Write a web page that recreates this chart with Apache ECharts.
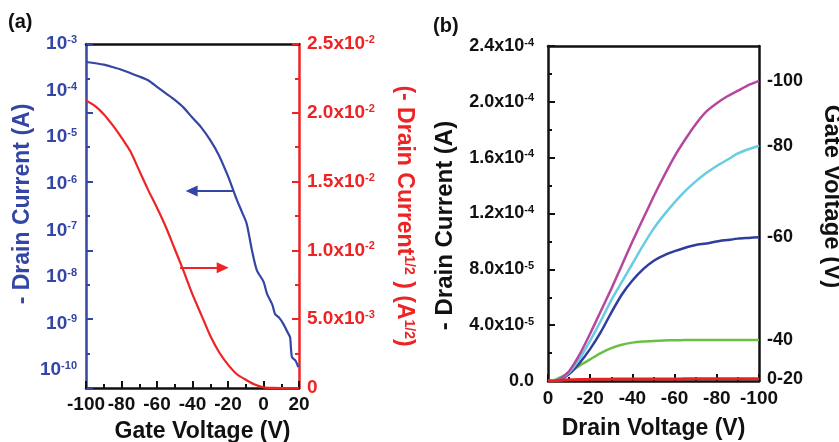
<!DOCTYPE html>
<html><head><meta charset="utf-8">
<script src="https://cdn.jsdelivr.net/npm/echarts@6/dist/echarts.min.js"></script>
<style>html,body{margin:0;padding:0;background:#fff}#c{width:839px;height:442px}</style>
</head><body><div id="c"></div>
<script>
// ---------- Panel (a): transfer characteristics ----------
const gateVoltageA = [-100,-90,-85,-80,-70,-65,-60,-55,-50,-45,-40,-35,-30,-25,-20,-17,-15,-12,-9.5,-6.5,-3.8,0,2,5,6.5,9,11,14,15,16,18,19.6];
const drainCurrentA = [4.1e-4,3.6e-4,3.2e-4,2.8e-4,2.0e-4,1.66e-4,1.2e-4,8.7e-5,6.3e-5,4.3e-5,2.6e-5,1.6e-5,8.6e-6,4.0e-6,1.45e-6,7.2e-7,4.5e-7,2.4e-7,1.4e-7,3.7e-8,1.4e-8,7.9e-9,4.3e-9,2.5e-9,1.6e-9,1.3e-9,1.0e-9,6.0e-10,5.0e-10,1.9e-10,1.6e-10,1.15e-10];
const gateVoltageA2 = [-100,-95,-90,-85,-80,-75,-70,-65,-60,-55,-50,-45,-40,-35,-30,-25,-20,-15,-10,-5,0,5,10,15,20];
const sqrtDrainCurrentA = [0.0209,0.0205,0.0199,0.0191,0.0182,0.0172,0.0158,0.0144,0.0131,0.0117,0.0101,0.0085,0.0068,0.0053,0.0038,0.0026,0.0017,0.0010,0.0006,0.00025,0.00005,0.00001,0,0,0];
// arrows: [x from, x to, y]
const blueArrowA = [-17.2, -40.5, 7.0e-7];
const redArrowA = [-47, -23, 0.00874];
const gateTicksA = { min: -100, max: 20, step: 20 };
const logRangeA = { min: 4.1e-11, max: 1e-3 };
const sqrtRangeA = { min: 0, max: 0.025, step: 0.005 };

// ---------- Panel (b): output characteristics ----------
const drainVoltageB = [0,-2,-5,-10,-15,-20,-25,-30,-35,-40,-45,-50,-55,-60,-65,-70,-75,-80,-85,-90,-95,-100];
const idVg100 = [0,0,1.0e-6,7e-6,1.9e-5,3.4e-5,5.0e-5,6.6e-5,8.3e-5,1.0e-4,1.16e-4,1.32e-4,1.47e-4,1.61e-4,1.73e-4,1.84e-4,1.93e-4,1.99e-4,2.04e-4,2.08e-4,2.12e-4,2.15e-4];
const idVg80 = [0,0,1.0e-6,6e-6,1.6e-5,2.9e-5,4.3e-5,5.8e-5,7.1e-5,8.4e-5,9.7e-5,1.09e-4,1.19e-4,1.28e-4,1.36e-4,1.43e-4,1.49e-4,1.54e-4,1.585e-4,1.63e-4,1.66e-4,1.685e-4];
const idVg60 = [0,0,5e-7,5e-6,1.3e-5,2.3e-5,3.5e-5,4.9e-5,6.2e-5,7.2e-5,8.0e-5,8.6e-5,9.0e-5,9.3e-5,9.55e-5,9.75e-5,9.85e-5,1.0e-4,1.01e-4,1.02e-4,1.025e-4,1.03e-4];
const idVg40 = [0,0,2e-6,6e-6,1.1e-5,1.55e-5,2.0e-5,2.35e-5,2.6e-5,2.75e-5,2.83e-5,2.87e-5,2.9e-5,2.92e-5,2.93e-5,2.93e-5,2.93e-5,2.94e-5,2.94e-5,2.94e-5,2.94e-5,2.94e-5];
const idVg20 = [0,0,4e-7,9e-7,1.1e-6,1.2e-6,1.3e-6,1.35e-6,1.4e-6,1.4e-6,1.45e-6,1.5e-6,1.5e-6,1.5e-6,1.55e-6,1.6e-6,1.6e-6,1.6e-6,1.65e-6,1.7e-6,1.7e-6,1.7e-6];
const gateLabelsB = ['-100','-80','-60','-40','0-20'];
const drainTicksB = { min: -100, max: 0, step: 20 };
const currentRangeB = { min: 0, max: 2.4e-4, step: 4e-5 };

// ---------- styling ----------
const FONT = '"Liberation Sans", Arial, sans-serif';
const BLUE = '#3346a6', RED = '#ee2424', BLACK = '#111';
const colorsB = ['#b5489e', '#68cde2', '#2f3d9d', '#6cbf45', '#e82222'];
const seriesB = [idVg100, idVg80, idVg60, idVg40, idVg20];

const zip = (xs, ys) => xs.map((x, i) => [x, ys[i]]);
function sci(v, digits) {
  if (v === 0) return null;
  const e = Math.floor(Math.log10(v) + 1e-9);
  const m = (v / Math.pow(10, e)).toFixed(digits);
  return { m, e };
}
function richSet(color, size) {
  return {
    b: { fontSize: size, fontWeight: 'bold', fontFamily: FONT, color },
    s: { fontSize: Math.round(size * 0.6), fontWeight: 'bold', fontFamily: FONT, color, verticalAlign: 'top' }
  };
}
const tickLab = (color, size) => ({ fontSize: size, fontWeight: 'bold', fontFamily: FONT, color });
const titleStyle = (color, size, pad) => ({ fontSize: size, fontWeight: 'bold', fontFamily: FONT, color, padding: pad });

const option = {
  animation: false,
  backgroundColor: '#fff',
  title: [
    { text: '(a)', left: 8, top: 12, padding: 0, textStyle: { fontSize: 20, fontWeight: 'bold', fontFamily: FONT, color: BLACK } },
    { text: '(b)', left: 433, top: 16, padding: 0, textStyle: { fontSize: 20, fontWeight: 'bold', fontFamily: FONT, color: BLACK } }
  ],
  grid: [
    { left: 86, top: 44, width: 213, height: 344, outerBoundsMode: 'none' },
    { left: 548, top: 46, width: 211, height: 335, outerBoundsMode: 'none' }
  ],
  xAxis: [
    { gridIndex: 0, type: 'value', position: 'bottom', min: gateTicksA.min, max: gateTicksA.max, interval: gateTicksA.step,
      axisLine: { onZero: false, lineStyle: { color: BLACK, width: 2.5 } },
      axisTick: { show: true, inside: true, length: 7, lineStyle: { color: BLACK, width: 2 } },
      minorTick: { show: true, splitNumber: 2, length: 4, lineStyle: { color: BLACK, width: 2 } },
      splitLine: { show: false },
      axisLabel: Object.assign(tickLab(BLACK, 19), { margin: 7 }),
      name: 'Gate Voltage (V)', nameLocation: 'middle', nameGap: 32,
      nameTextStyle: titleStyle(BLACK, 23, [0, 0, 0, 20]) },
    { gridIndex: 0, type: 'value', position: 'top', min: gateTicksA.min, max: gateTicksA.max,
      axisLine: { onZero: false, lineStyle: { color: BLACK, width: 2.5 } }, axisTick: { show: false }, axisLabel: { show: false }, splitLine: { show: false } },
    { gridIndex: 1, type: 'value', position: 'bottom', inverse: true, min: drainTicksB.min, max: drainTicksB.max, interval: drainTicksB.step,
      axisLine: { onZero: false, lineStyle: { color: BLACK, width: 2.5 } },
      axisTick: { show: true, inside: true, length: 7, lineStyle: { color: BLACK, width: 2 } },
      minorTick: { show: true, splitNumber: 2, length: 4, lineStyle: { color: BLACK, width: 2 } },
      splitLine: { show: false },
      axisLabel: Object.assign(tickLab(BLACK, 19), { margin: 8 }),
      name: 'Drain Voltage (V)', nameLocation: 'middle', nameGap: 36,
      nameTextStyle: titleStyle(BLACK, 23, 0) },
    { gridIndex: 1, type: 'value', position: 'top', inverse: true, min: drainTicksB.min, max: drainTicksB.max,
      axisLine: { onZero: false, lineStyle: { color: BLACK, width: 2.5 } }, axisTick: { show: false }, axisLabel: { show: false }, splitLine: { show: false } }
  ],
  yAxis: [
    { gridIndex: 0, type: 'log', position: 'left', min: logRangeA.min, max: logRangeA.max,
      axisLine: { show: true, onZero: false, lineStyle: { color: BLUE, width: 2.5 } },
      axisTick: { show: false }, minorTick: { show: false }, splitLine: { show: false }, minorSplitLine: { show: false },
      axisLabel: { showMinLabel: false, margin: 9,
        formatter: v => '{b|10}{s|' + Math.round(Math.log10(v)) + '}', rich: richSet(BLUE, 19) },
      name: '- Drain Current (A)', nameLocation: 'middle', nameGap: 52,
      nameTextStyle: titleStyle(BLUE, 23, [0, 0, 0, 24]) },
    { gridIndex: 0, type: 'value', position: 'right', min: sqrtRangeA.min, max: sqrtRangeA.max, interval: sqrtRangeA.step,
      axisLine: { show: true, onZero: false, lineStyle: { color: RED, width: 2.5 } },
      axisTick: { inside: true, length: 7, lineStyle: { color: RED, width: 2 } },
      minorTick: { show: true, splitNumber: 2, length: 4, lineStyle: { color: RED, width: 2 } },
      splitLine: { show: false },
      axisLabel: { margin: 8, formatter: v => { const s = sci(v, 1); return s ? '{b|' + s.m + 'x10}{s|' + s.e + '}' : '{b|0}'; }, rich: richSet(RED, 19) },
      name: '{b|(- Drain Current}{s|1/2}{b| ) (A}{s|1/2}{b|)}', nameLocation: 'middle', nameGap: 94, nameRotate: -90,
      nameTextStyle: { rich: richSet(RED, 23) } },
    { gridIndex: 0, type: 'value', position: 'left', min: sqrtRangeA.min, max: sqrtRangeA.max, interval: sqrtRangeA.step,
      axisLine: { show: false, onZero: false },
      axisTick: { inside: true, length: 7, lineStyle: { color: BLUE, width: 2 } },
      minorTick: { show: true, splitNumber: 2, length: 4, lineStyle: { color: BLUE, width: 2 } },
      splitLine: { show: false }, axisLabel: { show: false } },
    { gridIndex: 1, type: 'value', position: 'left', min: currentRangeB.min, max: currentRangeB.max, interval: currentRangeB.step,
      axisLine: { show: true, onZero: false, lineStyle: { color: BLACK, width: 2.5 } },
      axisTick: { inside: true, length: 7, lineStyle: { color: BLACK, width: 2 } },
      minorTick: { show: true, splitNumber: 2, length: 4, lineStyle: { color: BLACK, width: 2 } },
      splitLine: { show: false },
      axisLabel: { margin: 14, formatter: v => { const s = sci(v, 1); return s ? '{b|' + s.m + 'x10}{s|' + s.e + '}' : '{b|0.0}'; }, rich: richSet(BLACK, 18) },
      name: '- Drain Current (A)', nameLocation: 'middle', nameGap: 91,
      nameTextStyle: titleStyle(BLACK, 24, [0, 24, 0, 0]) },
    { gridIndex: 1, type: 'value', position: 'right', min: currentRangeB.min, max: currentRangeB.max,
      axisLine: { show: true, onZero: false, lineStyle: { color: BLACK, width: 2.5 } },
      axisTick: { show: false }, axisLabel: { show: false }, splitLine: { show: false },
      name: 'Gate Voltage (V)', nameLocation: 'middle', nameGap: 61, nameRotate: -90,
      nameTextStyle: titleStyle(BLACK, 24, [0, 34, 0, 0]) }
  ],
  series: [
    { type: 'line', xAxisIndex: 0, yAxisIndex: 0, data: zip(gateVoltageA, drainCurrentA), showSymbol: false,
      smooth: 0.25,
      lineStyle: { color: BLUE, width: 2.2 }, itemStyle: { color: BLUE },
      markLine: { silent: true, symbol: ['none', 'triangle'], symbolSize: [11, 12], label: { show: false },
        lineStyle: { color: BLUE, width: 2, type: 'solid' },
        data: [[{ coord: [blueArrowA[0], blueArrowA[2]] }, { coord: [blueArrowA[1], blueArrowA[2]] }]] } },
    { type: 'line', xAxisIndex: 0, yAxisIndex: 1, data: zip(gateVoltageA2, sqrtDrainCurrentA), showSymbol: false,
      smooth: 0.2,
      lineStyle: { color: RED, width: 2.2 }, itemStyle: { color: RED },
      markLine: { silent: true, symbol: ['none', 'triangle'], symbolSize: [11, 12], label: { show: false },
        lineStyle: { color: RED, width: 2, type: 'solid' },
        data: [[{ coord: [redArrowA[0], redArrowA[2]] }, { coord: [redArrowA[1], redArrowA[2]] }]] } }
  ]
};
[3, 2, 1, 0, 4].forEach(i => {
  const n = drainVoltageB.length - 1;
  option.series.push({
    type: 'line', xAxisIndex: 2, yAxisIndex: 3, data: zip(drainVoltageB, seriesB[i]), showSymbol: false,
    smooth: 0.2,
    lineStyle: { color: colorsB[i], width: i === 4 ? 3 : 2.5 }, itemStyle: { color: colorsB[i] },
    markPoint: { silent: true, symbol: 'circle', symbolSize: 0,
      label: { show: true, position: 'right', distance: 8, formatter: gateLabelsB[i],
        fontSize: 18, fontWeight: 'bold', fontFamily: FONT, color: BLACK },
      data: [{ coord: [drainVoltageB[n], seriesB[i][n]] }] }
  });
});
const chart = echarts.init(document.getElementById('c'), null, { renderer: 'canvas' });
chart.setOption(option);
</script></body></html>
